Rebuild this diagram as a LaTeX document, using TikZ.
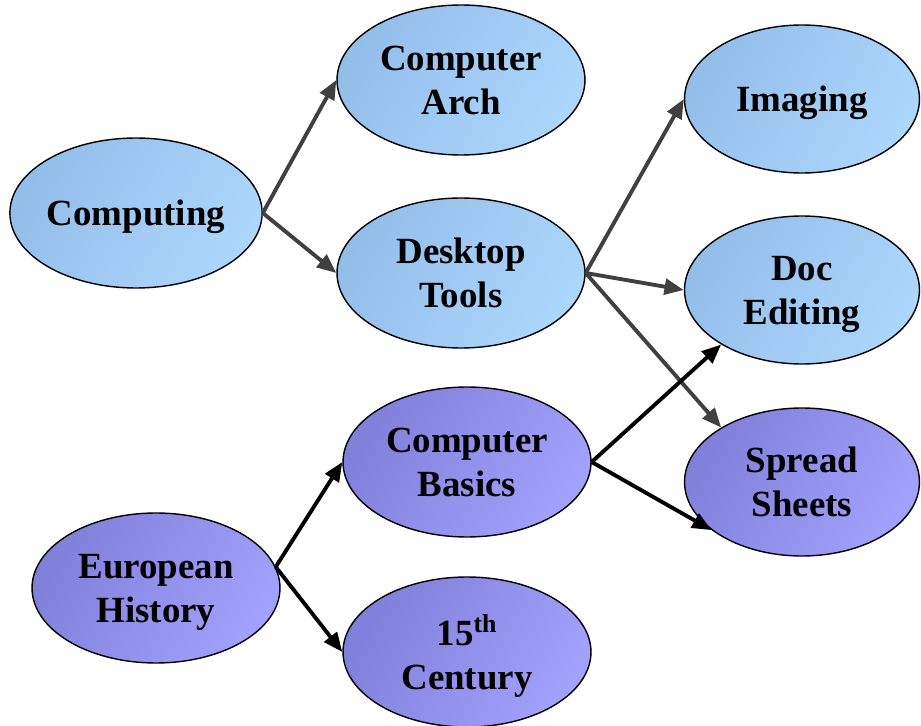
\documentclass[tikz,border=0pt]{standalone}
\usepackage{fontspec}
\setmainfont{Liberation Serif}
\usetikzlibrary{shapes.geometric,arrows.meta}
\definecolor{bluelight}{RGB}{172,214,252}
\definecolor{bluedark}{RGB}{148,190,234}
\definecolor{purplelight}{RGB}{162,162,252}
\definecolor{purpledark}{RGB}{128,128,218}
\definecolor{arrowgray}{RGB}{64,64,64}
\tikzset{
  topic/.style={ellipse,draw=black,line width=0.8pt,inner sep=0pt,
    minimum width=4.96cm,minimum height=3cm,align=center,text depth=0pt,
    font=\fontsize{21}{25}\selectfont\bfseries},
  bluetopic/.style={topic,left color=bluedark,right color=bluelight,shading angle=60},
  purpletopic/.style={topic,left color=purpledark,right color=purplelight,shading angle=60},
  narrow/.style={minimum width=4.7cm,minimum height=2.96cm},
  link/.style={line width=2.2pt,-{Triangle[length=11pt,width=9pt]}},
  graylink/.style={link,arrowgray}
}
\begin{document}
\begin{tikzpicture}[x=0.02cm,y=-0.02cm]
        \useasboundingbox (0,0) rectangle (921,726);
        % computing branch
        \node[bluetopic] (comp) at (136,213) {Computing};
        \node[bluetopic] (arch) at (461,80) {Computer\\Arch};
        \node[bluetopic] (desk) at (461,273) {Desktop\\Tools};
        \node[bluetopic,narrow] (imag) at (802,99) {Imaging};
        \node[bluetopic,narrow] (doced) at (802,290) {Doc\\Editing};
        % history branch
        \node[purpletopic,narrow] (spread) at (802,482) {Spread\\Sheets};
        \node[purpletopic] (basics) at (467,462) {Computer\\Basics};
        \node[purpletopic] (europe) at (156,588) {European\\History};
        \node[purpletopic] (century) at (467,652) {15\textsuperscript{th}\\Century};
        \draw[graylink] (comp.east) -- (arch.west);
        \draw[graylink] (comp.east) -- (desk.west);
        \draw[graylink] (desk.east) -- (imag.west);
        \draw[graylink] (desk.east) -- (doced.west);
        \draw[graylink] (desk.east) -- (spread.146);
        \draw[link] (basics.east) -- (doced.214);
        \draw[link] (basics.east) -- (spread.208);
        \draw[link] (europe.10) -- (basics.west);
        \draw[link] (europe.10) -- (century.west);
    \end{tikzpicture}
\end{document}
